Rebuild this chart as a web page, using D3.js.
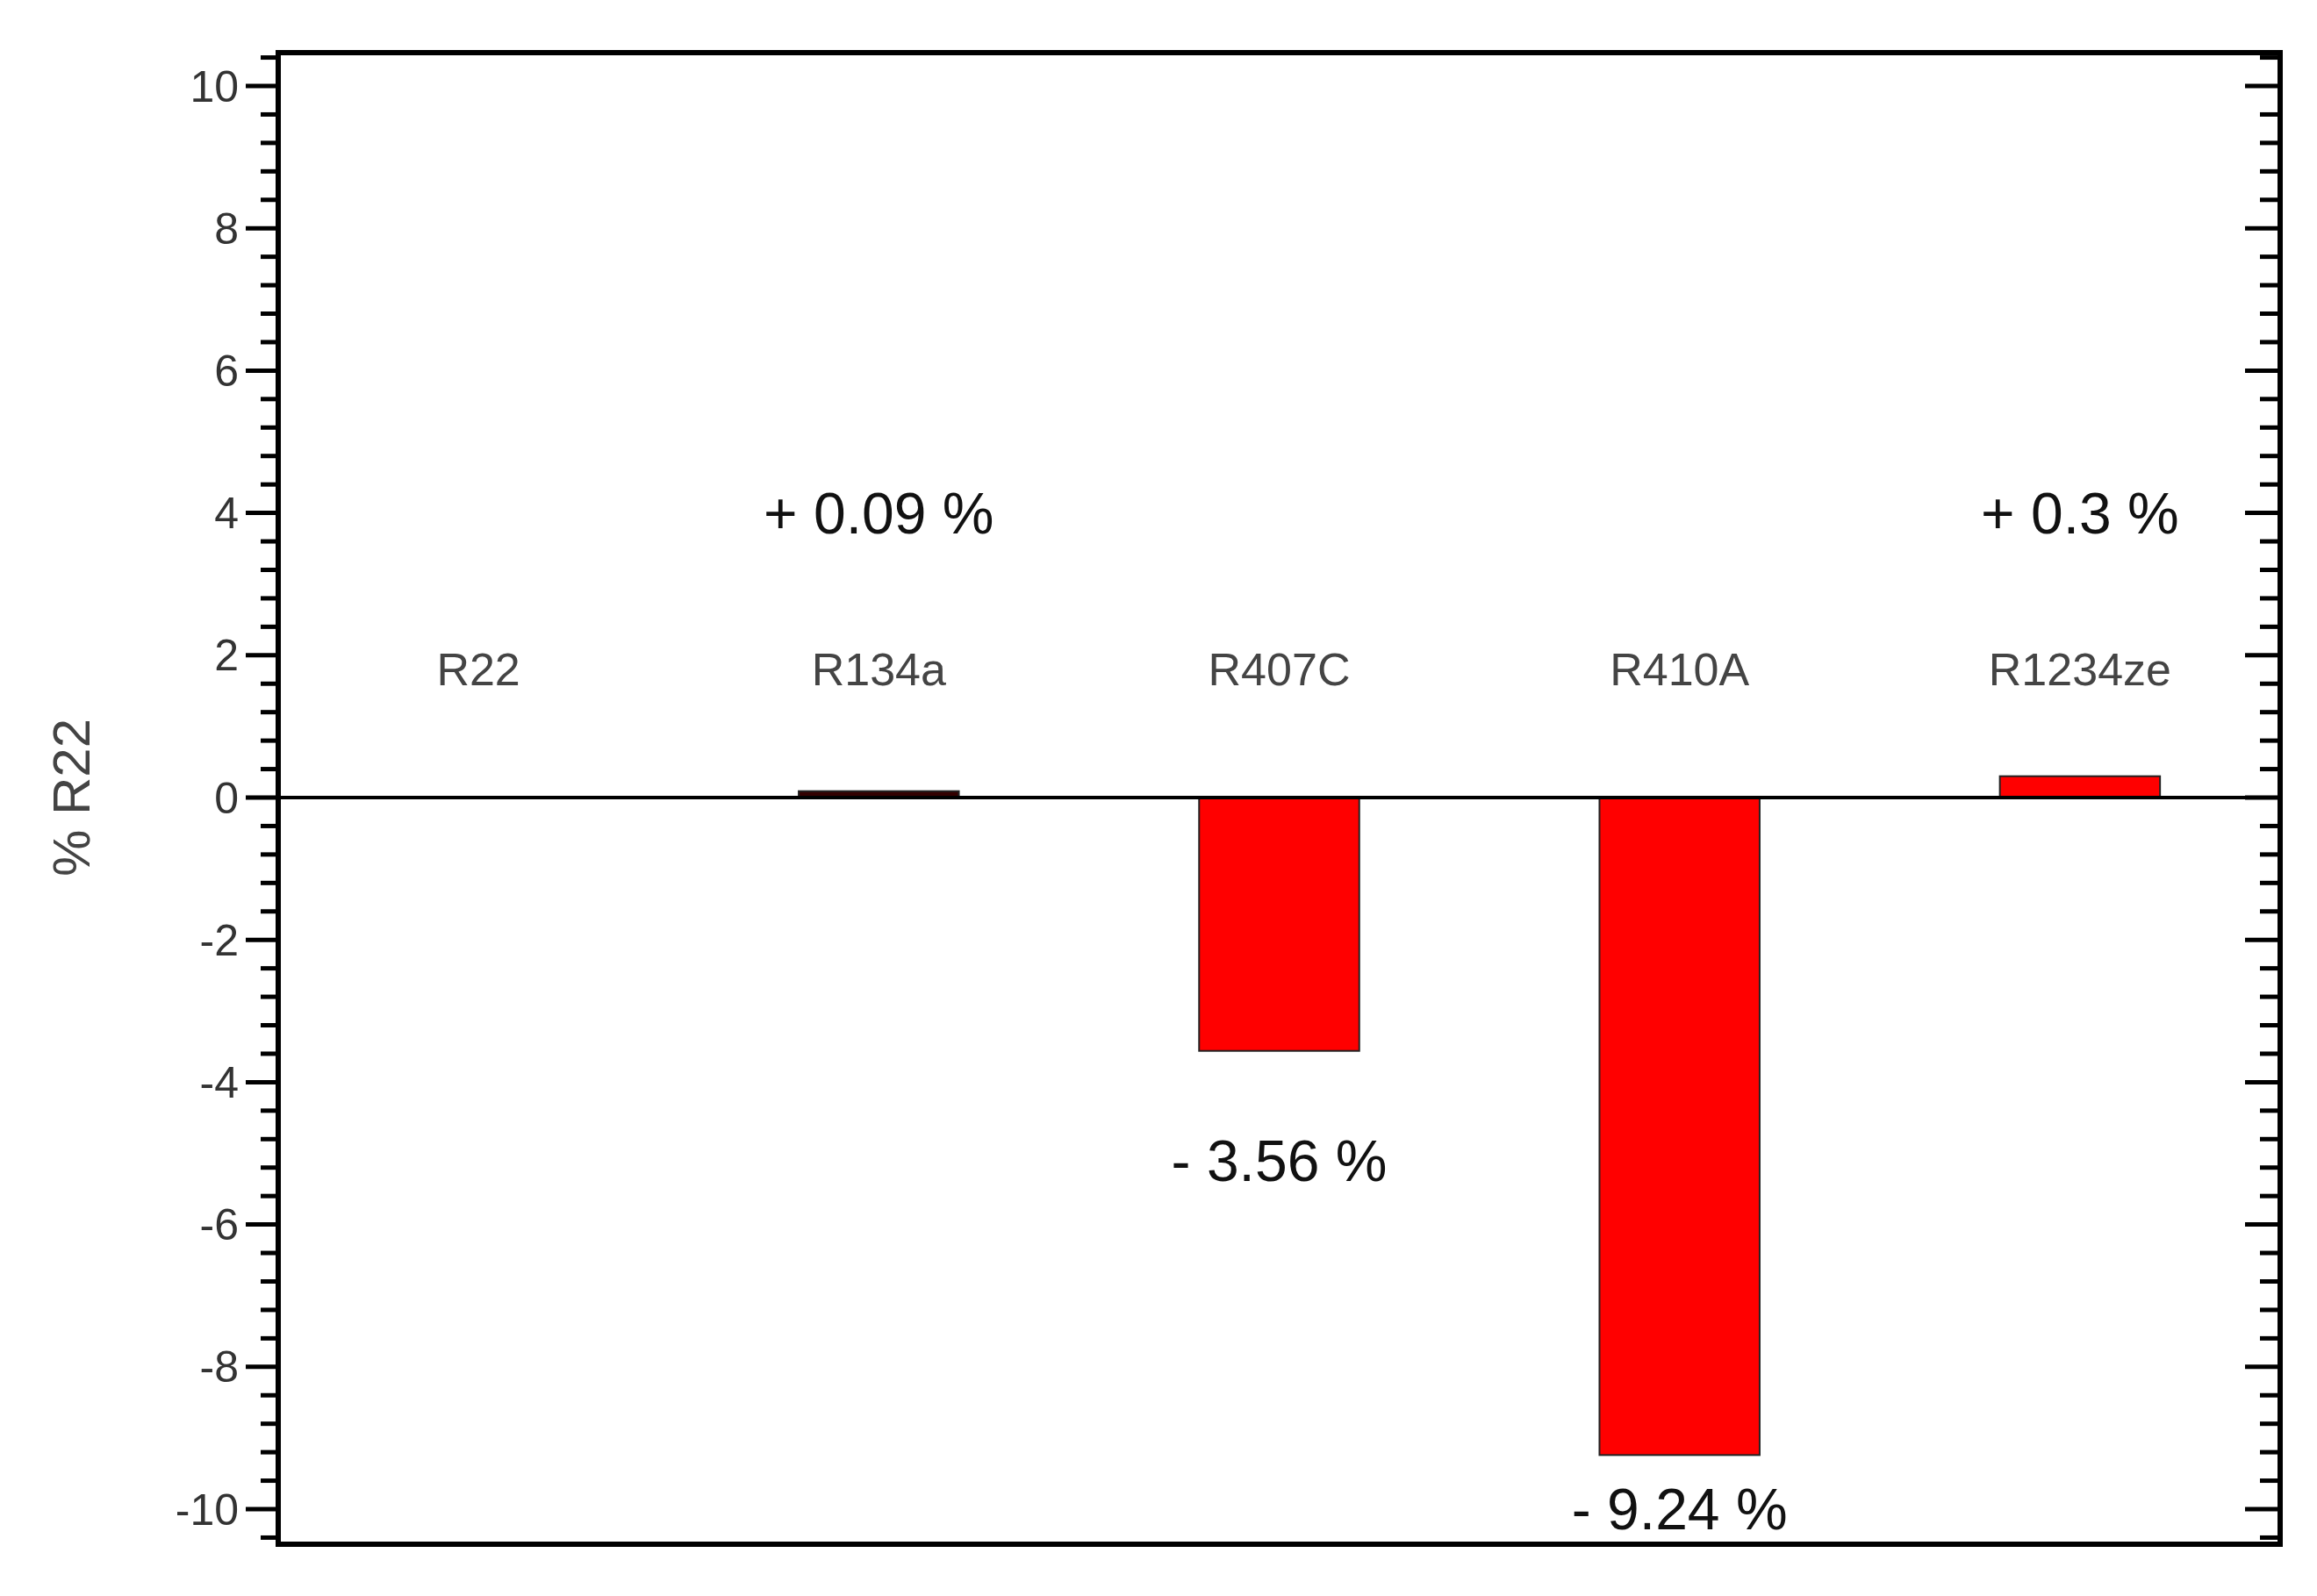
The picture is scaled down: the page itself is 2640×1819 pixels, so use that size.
<!DOCTYPE html>
<html><head><meta charset="utf-8">
<script src="https://cdn.jsdelivr.net/npm/d3@7"></script>
<style>body{margin:0;background:#fff}text{font-family:Arial,"Liberation Sans",sans-serif}</style>
</head><body>
<script>
const categories = ["R22", "R134a", "R407C", "R410A", "R1234ze"];
const values = [0, 0.09, -3.56, -9.24, 0.3];
const valueLabels = ["", "+ 0.09 %", "- 3.56 %", "- 9.24 %", "+ 0.3 %"];
const yTicks = [-10, -8, -6, -4, -2, 0, 2, 4, 6, 8, 10];

const W = 2640, H = 1819;
const plotLeft = 317, plotRight = 2598, plotTop = 60, plotBottom = 1760;
const svg = d3.select("body").append("svg").attr("width", W).attr("height", H);

const y = d3.scaleLinear().domain([-10, 10]).range([1720, 98]);
const x = d3.scaleBand().domain(categories).range([plotLeft, plotRight]).paddingInner(0.6).paddingOuter(0.3);

const minor = d3.range(-10.4, 10.5, 0.4).map(v => +v.toFixed(1)).filter(v => y(v) > plotTop && y(v) < plotBottom);

// left axis ticks
svg.append("g").selectAll("line").data(minor).join("line")
  .attr("x1", d => yTicks.includes(d) ? plotLeft - 37 : plotLeft - 20).attr("x2", plotLeft)
  .attr("y1", d => y(d)).attr("y2", d => y(d)).attr("stroke", "#000").attr("stroke-width", 5);
// right axis ticks
svg.append("g").selectAll("line").data(minor).join("line")
  .attr("x1", d => yTicks.includes(d) ? plotRight - 40 : plotRight - 23).attr("x2", plotRight)
  .attr("y1", d => y(d)).attr("y2", d => y(d)).attr("stroke", "#000").attr("stroke-width", 5);

svg.append("g").selectAll("text").data(yTicks).join("text")
  .attr("x", plotLeft - 45).attr("y", d => y(d)).attr("dy", "0.35em")
  .attr("text-anchor", "end").attr("font-size", 50).attr("fill", "#333").text(d => d);

// bars
svg.append("g").selectAll("rect").data(values).join("rect")
  .attr("x", (d, i) => x(categories[i])).attr("width", x.bandwidth())
  .attr("y", d => y(Math.max(0, d))).attr("height", d => Math.abs(y(d) - y(0)))
  .attr("fill", (d, i) => i === 1 ? "#300" : "#f00")
  .attr("stroke", "#222").attr("stroke-width", 2);

// zero line
svg.append("line").attr("x1", plotLeft).attr("x2", plotRight).attr("y1", y(0)).attr("y2", y(0))
  .attr("stroke", "#000").attr("stroke-width", 4);

// frame
svg.append("rect").attr("x", plotLeft).attr("y", plotTop).attr("width", plotRight - plotLeft).attr("height", plotBottom - plotTop)
  .attr("fill", "none").attr("stroke", "#000").attr("stroke-width", 6);

// category labels
svg.append("g").selectAll("text").data(categories).join("text")
  .attr("x", d => x(d) + x.bandwidth() / 2).attr("y", y(1.8)).attr("dy", "0.35em")
  .attr("text-anchor", "middle").attr("font-size", 52).attr("fill", "#444").text(d => d);

// value labels
const labelY = [0, 4, -5.1, -10, 4];
svg.append("g").selectAll("text").data(valueLabels).join("text")
  .attr("x", (d, i) => x(categories[i]) + x.bandwidth() / 2).attr("y", (d, i) => y(labelY[i])).attr("dy", "0.35em")
  .attr("text-anchor", "middle").attr("font-size", 66).attr("fill", "#111").text(d => d);

svg.append("text").attr("transform", `translate(102,${y(0)}) rotate(-90)`)
  .attr("text-anchor", "middle").attr("font-size", 60).attr("fill", "#444").text("% R22");
</script>
</body></html>
